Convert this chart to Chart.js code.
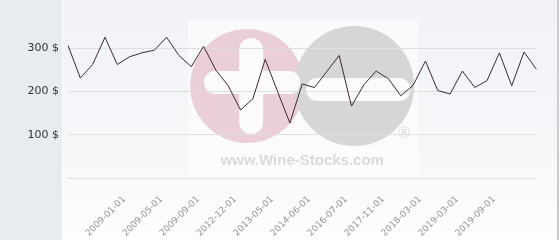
<!DOCTYPE html>
<html>
<head>
<meta charset="utf-8">
<script src="https://cdn.jsdelivr.net/npm/chart.js@4.4.1/dist/chart.umd.min.js"></script>
<style>
body { margin: 0; background: #fff; }
#wrap { position: relative; width: 560px; height: 240px; overflow: hidden; }
#side { position: absolute; left: 0; top: 0; width: 62px; height: 240px; background: #e8ecef; }
#panel { position: absolute; left: 63px; top: 0; width: 494px; height: 240px;
  background: linear-gradient(#f1f2f7, #f7f7fa 60%, #fdfdfe);
  border-right: 2px solid #c9cbce; }
#c { position: absolute; left: 0; top: 0; }
</style>
</head>
<body>
<div id="wrap">
  <div id="side"></div>
  <div id="panel"></div>
  <canvas id="c" width="560" height="240"></canvas>
</div>
<script>
// one label every third point, the others are not shown on the chart
var dates = ['', '', '', '', '2009-01-01', '', '', '2009-05-01', '', '', '2009-09-01', '', '', '2012-12-01',
  '', '', '2013-05-01', '', '', '2014-06-01', '', '', '2016-07-01', '', '', '2017-11-01', '', '',
  '2018-03-01', '', '', '2019-03-01', '', '', '2019-09-01', '', '', '', '']
var prices = [306, 231, 262, 325, 262, 280, 289, 295, 325, 283, 257, 304, 249, 213, 157, 183, 274, 200, 127,
  217, 209, 246, 283, 166, 215, 247, 229, 190, 214, 270, 202, 194, 247, 209, 225, 289, 213, 291, 251]
var yTicks = [100, 200, 300]

// logo behind the line
var watermark = {
  id: 'watermark',
  beforeDraw: function (chart) {
    var ctx = chart.ctx, a = chart.chartArea
    var cx = (a.left + a.right) / 2, cy = a.bottom - 92
    ctx.save()
    ctx.fillStyle = 'rgba(255,255,255,0.55)'
    ctx.fillRect(cx - 114, a.bottom - 158, 230, 156)
    ctx.fillStyle = '#eacfd6'
    ctx.beginPath(); ctx.arc(cx - 55, cy, 57, 0, Math.PI * 2); ctx.fill()
    ctx.fillStyle = '#d6d6d7'
    ctx.beginPath(); ctx.arc(cx + 52, cy, 60, 0, Math.PI * 2); ctx.fill()
    ctx.fillStyle = '#fbfbfc'
    ctx.beginPath(); ctx.roundRect(cx - 63, cy - 48, 24, 96, 12); ctx.fill()
    ctx.beginPath(); ctx.roundRect(cx - 98, cy - 15, 96, 23, 11); ctx.fill()
    ctx.beginPath(); ctx.roundRect(cx + 4, cy - 8, 104, 23, 11); ctx.fill()
    ctx.fillStyle = '#dadada'
    ctx.font = 'bold 15px "Liberation Sans", Arial, sans-serif'
    ctx.textAlign = 'center'
    ctx.fillText('www.Wine-Stocks.com', cx, a.bottom - 13)
    ctx.font = '16px "Liberation Sans", Arial, sans-serif'
    ctx.fillText('®', cx + 102, a.bottom - 40)
    ctx.restore()
  }
}

new Chart(document.getElementById('c'), {
  type: 'line',
  data: {
    labels: dates,
    datasets: [{
      data: prices,
      borderColor: '#3b2934',
      borderWidth: 1,
      pointRadius: 0,
      tension: 0,
      fill: false
    }]
  },
  options: {
    responsive: false,
    animation: false,
    layout: { padding: { top: 2, right: 5, left: 0, bottom: 0 } },
    plugins: { legend: { display: false }, tooltip: { enabled: false } },
    scales: {
      x: {
        offset: false,
        grid: { display: false, drawTicks: false },
        border: { display: false },
        ticks: {
          autoSkip: false, maxRotation: 45, minRotation: 45, padding: 16, labelOffset: 7,
          color: '#949494', font: { family: 'DejaVu Sans', size: 9 },
          callback: function (v, i) { return dates[i] }
        },
        afterFit: function (s) { s.height = 62 }
      },
      y: {
        min: 0, max: 375,
        grid: {
          drawTicks: false,
          color: function (c) { return yTicks.indexOf(c.tick.value) >= 0 || c.tick.value == 0 ? '#dedede' : 'rgba(0,0,0,0)' }
        },
        border: { display: false },
        ticks: {
          stepSize: 100, padding: 9, color: '#333',
          font: { family: 'DejaVu Sans', size: 11 },
          callback: function (v) { return yTicks.indexOf(v) >= 0 ? v + ' $' : '' }
        },
        afterFit: function (s) { s.width = 68 }
      }
    }
  },
  plugins: [watermark]
})
</script>
</body>
</html>
